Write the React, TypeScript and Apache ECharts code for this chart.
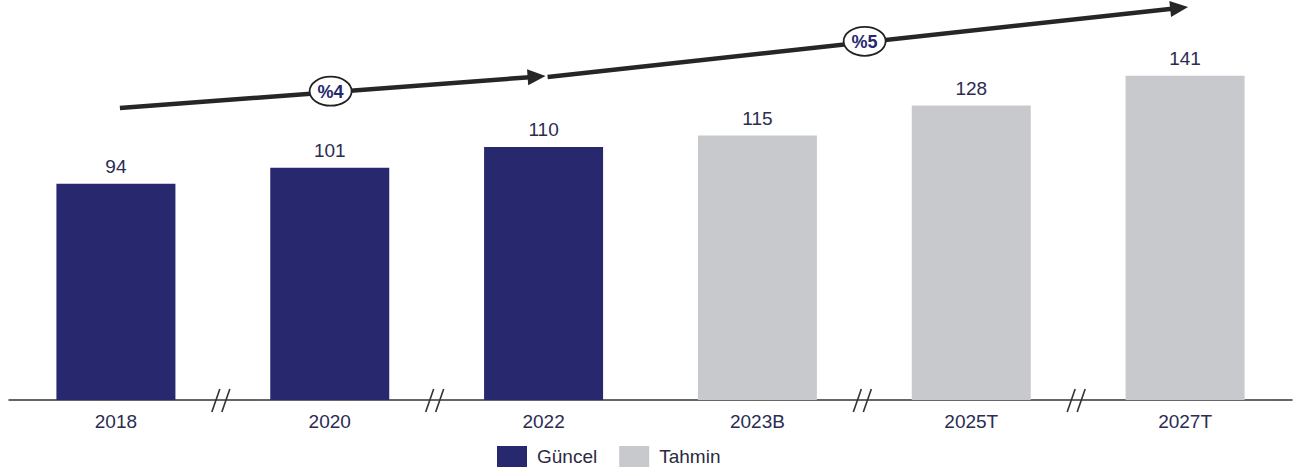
import React, { useEffect, useRef } from "react";
import * as echarts from "echarts";

const categories = ["2018", "2020", "2022", "2023B", "2025T", "2027T"];
const actualValues: (number | string)[] = [94, 101, 110, "-", "-", "-"];
const forecastValues: (number | string)[] = ["-", "-", "-", 115, 128, 141];
const seriesNames = ["Güncel", "Tahmin"];
const cagrLabels = ["%4", "%5"];
// arrows: [fromCategoryIndex, toCategoryIndex]
const arrowSpans = [
  [0, 2],
  [2, 5],
];
// axis breaks between these category pairs
const breakAfter = [0, 1, 3, 4];

const NAVY = "#28286f";
const GRAY = "#c8c9cd";
const TEXT = "#2a2c52";
const FONT = "'Liberation Sans', Arial, sans-serif";

export default function App() {
  const ref = useRef<HTMLDivElement>(null);
  useEffect(() => {
    if (!ref.current) return;
    const chart = echarts.init(ref.current, null, { renderer: "svg" });
    const option: any = {
      animation: false,
      backgroundColor: "#ffffff",
      textStyle: { fontFamily: FONT },
      grid: { left: 9, right: 10, top: 9, bottom: 76, containLabel: false },
      legend: {
        data: seriesNames,
        left: 492,
        top: 441,
        itemWidth: 30,
        itemHeight: 21,
        itemGap: 22,
        icon: "rect",
        textStyle: { fontSize: 19, color: "#2a2a40", fontFamily: FONT, padding: [0, 0, 0, 5] },
      },
      xAxis: {
        type: "category",
        data: categories,
        axisLine: { show: true, lineStyle: { color: "#333", width: 1.5 } },
        axisTick: { show: false },
        axisLabel: { fontSize: 19, color: TEXT, margin: 12, fontFamily: FONT },
      },
      yAxis: { type: "value", min: 0, max: 170, show: false, splitLine: { show: false } },
      series: [
        {
          name: seriesNames[0],
          type: "bar",
          data: actualValues,
          barWidth: 119,
          barGap: "-100%",
          itemStyle: { color: NAVY },
          label: { show: true, position: "top", distance: 8, fontSize: 19, color: TEXT, fontFamily: FONT },
        },
        {
          name: seriesNames[1],
          type: "bar",
          data: forecastValues,
          barWidth: 119,
          barGap: "-100%",
          itemStyle: { color: GRAY },
          label: { show: true, position: "top", distance: 8, fontSize: 19, color: TEXT, fontFamily: FONT },
        },
      ],
    };
    chart.setOption(option);

    const cx = (i: number) => chart.convertToPixel({ xAxisIndex: 0 }, categories[i]) as number;
    const baseY = chart.convertToPixel({ yAxisIndex: 0 }, 0) as number;

    const arrowYs = [
      [108, 76],
      [77, 7],
    ];
    const arrowXOffsets = [
      [4, 2],
      [4, 3],
    ];
    const ellipseT = [0.495, 0.495];
    const elements: any[] = [];
    arrowSpans.forEach((span, k) => {
      const x1 = cx(span[0]) + arrowXOffsets[k][0];
      const x2 = cx(span[1]) + arrowXOffsets[k][1];
      const y1 = arrowYs[k][0];
      const y2 = arrowYs[k][1];
      const dx = x2 - x1;
      const dy = y2 - y1;
      const len = Math.sqrt(dx * dx + dy * dy);
      const ux = dx / len;
      const uy = dy / len;
      const headLen = 18;
      const headHalf = 8;
      const bx = x2 - ux * headLen;
      const by = y2 - uy * headLen;
      elements.push({
        type: "line",
        z: 10,
        shape: { x1, y1, x2: bx + ux * 2, y2: by + uy * 2 },
        style: { stroke: "#262626", lineWidth: 4.5 },
      });
      elements.push({
        type: "polygon",
        z: 10,
        shape: {
          points: [
            [x2, y2],
            [bx - uy * headHalf, by + ux * headHalf],
            [bx + uy * headHalf, by - ux * headHalf],
          ],
        },
        style: { fill: "#262626" },
      });
      const ex = x1 + dx * ellipseT[k];
      const ey = y1 + dy * ellipseT[k] - 1;
      elements.push({
        type: "ellipse",
        z: 11,
        shape: { cx: ex, cy: ey, rx: 21, ry: 14.5 },
        style: { fill: "#ffffff", stroke: "#222", lineWidth: 1.8 },
      });
      elements.push({
        type: "text",
        z: 12,
        style: {
          text: cagrLabels[k],
          x: ex,
          y: ey + 1,
          align: "center",
          verticalAlign: "middle",
          font: `bold 18px ${FONT}`,
          fill: NAVY,
        },
      });
    });

    breakAfter.forEach((i) => {
      const mx = (cx(i) + cx(i + 1)) / 2 - 2;
      [-5, 5].forEach((off) => {
        elements.push({
          type: "line",
          z: 10,
          shape: { x1: mx + off - 4, y1: baseY + 12, x2: mx + off + 4, y2: baseY - 11 },
          style: { stroke: "#333", lineWidth: 1.6 },
        });
      });
    });

    chart.setOption({ graphic: { elements } });
    return () => chart.dispose();
  }, []);
  return (
    <div
      ref={ref}
      style={{ position: "absolute", left: 0, top: 0, width: 1302, height: 476 }}
    />
  );
}
